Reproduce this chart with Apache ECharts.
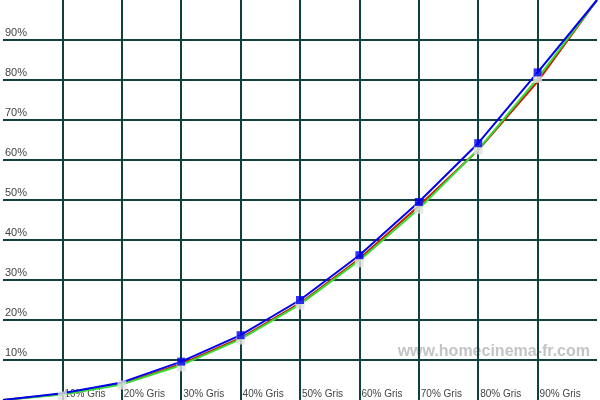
<!DOCTYPE html>
<html><head><meta charset="utf-8">
<script src="https://cdn.jsdelivr.net/npm/echarts@6/dist/echarts.min.js"></script>
<style>html,body{margin:0;padding:0;background:#fff}#c{width:600px;height:400px}</style>
</head><body><div id="c"></div>
<script>
const grayLevels = [0,10,20,30,40,50,60,70,80,90,100];
const xTickLabels = ['', '10% Gris','20% Gris','30% Gris','40% Gris','50% Gris','60% Gris','70% Gris','80% Gris','90% Gris',''];
const yTickLabels = ['', '10%','20%','30%','40%','50%','60%','70%','80%','90%',''];
const redValues   = [0,1.5,4.0,9.0,15.5,24.2,35.3,48.5,62.5,79.6,100];
const greenValues = [0,1.4,3.9,8.7,15.2,23.9,34.9,47.8,62.6,80.4,100];
const blueValues  = [0,1.7,4.4,9.6,16.2,25.0,36.2,49.5,64.2,81.9,100];
const grayValues  = [0,1.0,3.75,8.3,15.0,23.75,34.3,47.7,62.5,80.4,100];

const pairs = v => grayLevels.map((x,i)=>[x,v[i]]);
const chart = echarts.init(document.getElementById('c'));
chart.setOption({
  animation:false,
  backgroundColor:'#fff',
  grid:{left:0,right:0,top:0,bottom:0},
  xAxis:{type:'value',min:0,max:100,interval:10,
    axisLine:{show:false},axisTick:{show:false},
    splitLine:{show:true,showMinLine:false,showMaxLine:false,lineStyle:{color:'#12403f',width:2}},
    axisLabel:{inside:true,align:'left',verticalAlign:'bottom',margin:1,padding:[0,0,0,2],
      color:'#444',fontFamily:'Liberation Sans, Arial',fontSize:10,
      formatter:v=>xTickLabels[grayLevels.indexOf(Math.round(v))]||''}},
  yAxis:{type:'value',min:0,max:100,interval:10,
    axisLine:{show:false},axisTick:{show:false},
    splitLine:{show:true,showMinLine:false,showMaxLine:false,lineStyle:{color:'#12403f',width:2}},
    axisLabel:{inside:true,align:'left',verticalAlign:'bottom',margin:2,padding:[0,0,2,0],
      color:'#444',fontFamily:'Liberation Sans, Arial',fontSize:11,
      formatter:v=>yTickLabels[grayLevels.indexOf(Math.round(v))]||''}},
  graphic:[{type:'text',right:10,top:344,style:{text:'www.homecinema-fr.com',
    font:'bold 16px Liberation Sans, Arial',fill:'#c4c4c4'}}],
  series:[
    {type:'line',data:pairs(redValues),showSymbol:false,lineStyle:{color:'#cc1a00',width:2},z:2},
    {type:'line',data:pairs(greenValues),showSymbol:false,lineStyle:{color:'#33dd33',width:2},z:3},
    {type:'line',data:pairs(blueValues),showSymbol:false,lineStyle:{color:'#0000ee',width:2},z:4},
    {type:'scatter',data:pairs(grayValues).slice(1,10),symbol:'rect',symbolSize:9,itemStyle:{color:'#e2e2e2'},z:5},
    {type:'scatter',data:pairs(blueValues).slice(3,10),symbol:'rect',symbolSize:8,itemStyle:{color:'#0000ee'},z:6}
  ]
});
</script></body></html>
